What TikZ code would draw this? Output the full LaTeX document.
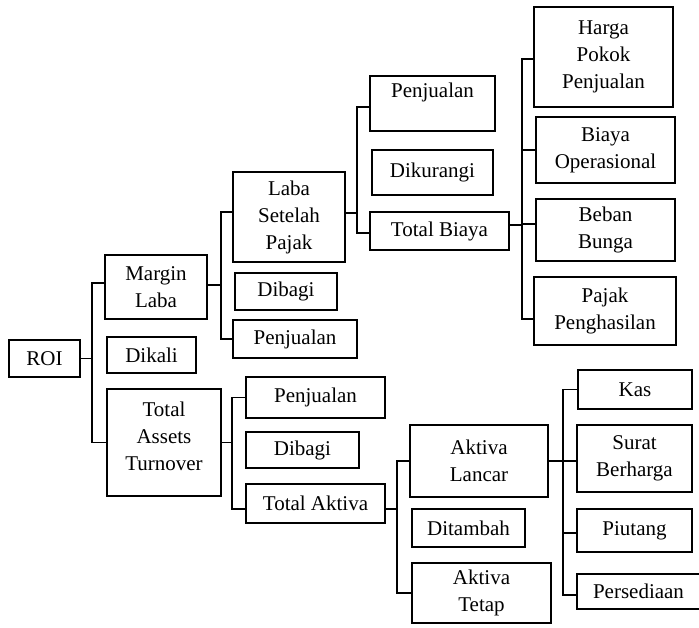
\documentclass[tikz,border=0pt]{standalone}
\usepackage{fontspec}
\setmainfont{Liberation Serif}
\begin{document}
\begin{tikzpicture}[x=1pt,y=-1pt,
  txt/.style={inner sep=0pt, align=center, font=\fontsize{21}{27}\selectfont},
  box/.style={txt, draw, line width=1.6pt},
  conn/.style={line width=1.6pt}]
\useasboundingbox[fill=white] (0,0) rectangle (699,627);
% level 0-1
\node[box, minimum width=71pt, minimum height=37pt] (roi) at (44.5,358.5) {ROI};
\node[box, minimum width=102pt, minimum height=64pt] (ml) at (156,287) {Margin\\Laba};
\node[box, minimum width=89pt, minimum height=36pt] (dikali) at (151.5,355) {Dikali};
\node[box, minimum width=114pt, minimum height=107pt] (tat) at (164,442.5) {};
\node[txt] (tatl) at ([yshift=6pt]tat.center) {Total\\Assets\\Turnover};
% margin laba branch
\node[box, minimum width=112pt, minimum height=90pt] (lsp) at (289,217) {Laba\\Setelah\\Pajak};
\node[box, minimum width=102pt, minimum height=37pt] (dibagia) at (286,291.5) {Dibagi};
\node[box, minimum width=124pt, minimum height=38pt] (penjb) at (295,339) {Penjualan};
\node[box, minimum width=125pt, minimum height=55pt] (penjc) at (432.5,103.5) {Penjualan\\\phantom{P}};
\node[box, minimum width=121pt, minimum height=45pt] (dikurangi) at (432.5,172.5) {Dikurangi};
\node[box, minimum width=139pt, minimum height=38pt] (tb) at (439.5,231) {Total Biaya};
\node[box, minimum width=139pt, minimum height=100pt] (hpp) at (603.5,57) {Harga\\Pokok\\Penjualan};
\node[box, minimum width=139pt, minimum height=66pt] (bo) at (605.5,150) {Biaya\\Operasional};
\node[box, minimum width=139pt, minimum height=62pt] (bb) at (605.5,230) {Beban\\Bunga};
\node[box, minimum width=142pt, minimum height=68pt] (pp) at (605,311) {Pajak\\Penghasilan};
% total assets turnover branch
\node[box, minimum width=139pt, minimum height=41pt] (penjd) at (315.5,397.5) {Penjualan};
\node[box, minimum width=113pt, minimum height=36pt] (dibagib) at (302.5,450) {Dibagi};
\node[box, minimum width=139pt, minimum height=39pt] (ta) at (315.5,503.5) {Total Aktiva};
\node[box, minimum width=138pt, minimum height=72pt] (al) at (479,461) {Aktiva\\Lancar};
\node[box, minimum width=113pt, minimum height=38pt] (ditambah) at (468.5,528) {Ditambah};
\node[box, minimum width=139pt, minimum height=60pt] (at) at (481.5,593) {Aktiva\\Tetap};
\node[box, minimum width=114pt, minimum height=39pt] (kas) at (635,389.5) {Kas};
\node[box, minimum width=115pt, minimum height=67pt] (sb) at (634.5,458.5) {Surat\\Berharga};
\node[box, minimum width=115pt, minimum height=43pt] (piutang) at (634.5,530.5) {Piutang};
\node[box, minimum width=123pt, minimum height=35pt] (pers) at (638.5,591.5) {Persediaan};
% trunks
\coordinate (t1) at (92,0);
\coordinate (t2) at (221,0);
\coordinate (t3) at (357,0);
\coordinate (t4) at (522,0);
\coordinate (t5) at (232,0);
\coordinate (t6) at (397,0);
\coordinate (t7) at (563,0);
% ROI
\draw[conn] (roi.east) -- (roi.east -| t1);
\coordinate (a1) at ([yshift=4pt]ml.west);
\draw[conn] (a1) -| (t1 |- tat.west) -- (tat.west);
% Margin Laba
\coordinate (b0) at ([yshift=2pt]ml.east);
\draw[conn] (b0) -- (b0 -| t2);
\coordinate (b1) at ([yshift=5pt]lsp.west);
\draw[conn] (b1) -| (t2 |- penjb.west) -- (penjb.west);
% Laba Setelah Pajak
\coordinate (c0) at ([yshift=4pt]lsp.east);
\draw[conn] (c0) -- (c0 -| t3);
\coordinate (c1) at ([yshift=-3.5pt]penjc.west);
\coordinate (c2) at ([yshift=-2pt]tb.west);
\draw[conn] (c1) -| (t3 |- c2) -- (c2);
% Total Biaya
\coordinate (d0) at ([yshift=6pt]tb.east);
\draw[conn] (d0) -- (d0 -| t4);
\coordinate (d1) at ([yshift=-2pt]hpp.west);
\coordinate (d4) at ([yshift=-8pt]pp.west);
\draw[conn] (d1) -| (t4 |- d4) -- (d4);
\draw[conn] (bo.west) -- (bo.west -| t4);
\coordinate (d3) at ([yshift=6pt]bb.west);
\draw[conn] (d3) -- (d3 -| t4);
% Total Assets Turnover
\draw[conn] (tat.east) -- (tat.east -| t5);
\coordinate (e2) at ([yshift=-5.5pt]ta.west);
\draw[conn] (penjd.west) -| (t5 |- e2) -- (e2);
% Total Aktiva
\coordinate (f0) at ([yshift=-5.5pt]ta.east);
\draw[conn] (f0) -- (f0 -| t6);
\draw[conn] (al.west) -| (t6 |- at.west) -- (at.west);
% Aktiva Lancar
\draw[conn] (al.east) -- (al.east -| sb.west);
\coordinate (g4) at ([yshift=-3.5pt]pers.west);
\draw[conn] (kas.west) -| (t7 |- g4) -- (g4);
\coordinate (g3) at ([yshift=-2.5pt]piutang.west);
\draw[conn] (g3) -- (g3 -| t7);
\end{tikzpicture}
\end{document}
